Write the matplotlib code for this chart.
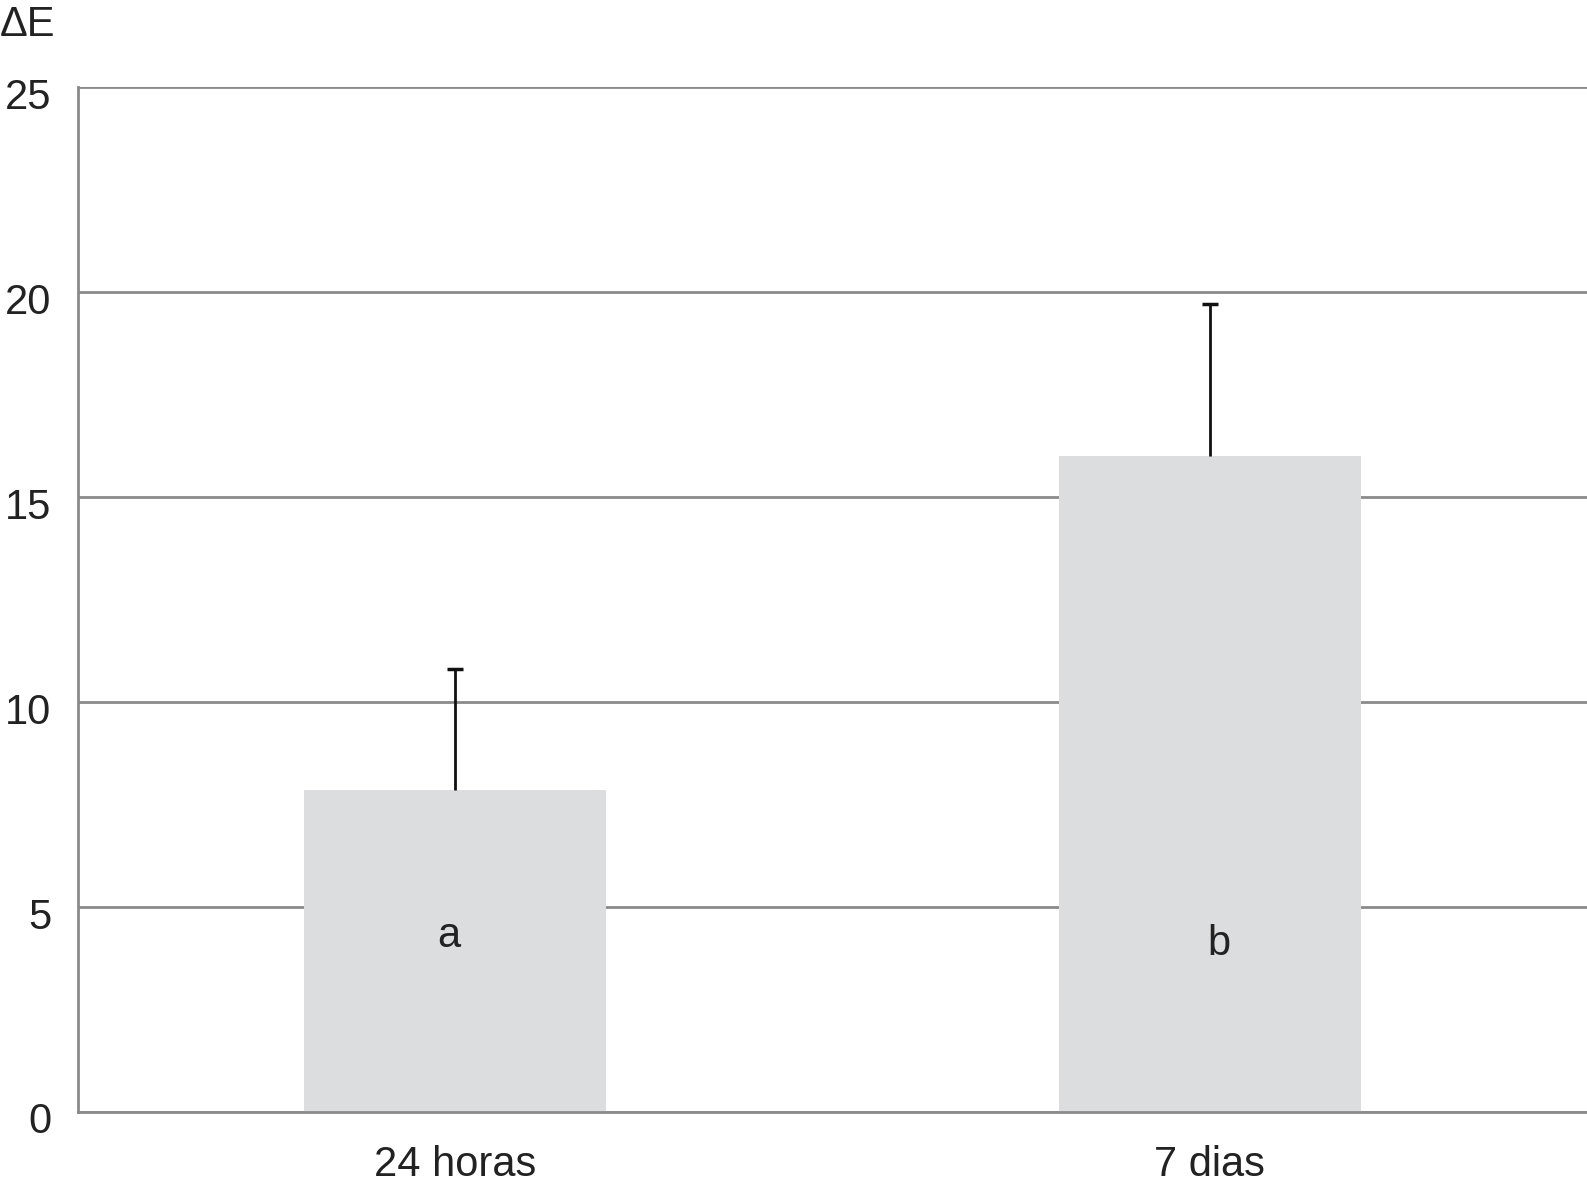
import matplotlib.pyplot as plt
from matplotlib.transforms import ScaledTranslation

# data
categories = ["24 horas", "7 dias"]
means = [7.85, 16.0]
errors = [2.95, 3.7]
letters = ["a", "b"]
letter_y = [4.3, 4.1]

plt.rcParams['font.family'] = ['Liberation Sans', 'DejaVu Sans']

fig = plt.figure(figsize=(15.87, 11.86), dpi=100)
ax = fig.add_axes([0.049, 0.0624, 0.951, 0.8642])

x = [0.5, 1.5]
ax.bar(x, means, width=0.40, color="#dcdddf", zorder=2)
eb = ax.errorbar(x, means, yerr=[[0, 0], errors], fmt="none", ecolor="#111111",
                 elinewidth=2, capsize=6, capthick=2.5, zorder=3)
# only the upper cap is drawn in the original
eb[1][0].set_visible(False)

for xi, lab, ly in zip(x, letters, letter_y):
    ax.text(xi - 0.008 if lab == "a" else xi + 0.012, ly, lab, ha="center", va="center",
            fontsize=30, color="#222222", zorder=4)

ax.set_xlim(0, 2)
ax.set_ylim(0, 25)
ax.set_yticks([0, 5, 10, 15, 20, 25])
ax.set_xticks(x)
ax.set_xticklabels(categories)
ax.yaxis.grid(True, color="#8a8a8a", linewidth=2, zorder=1)
ax.tick_params(axis="both", length=0, labelsize=30, colors="#222222")
ax.tick_params(axis="y", pad=19)
ax.tick_params(axis="x", pad=24)

# the y labels sit slightly below their gridlines in the original
shift = ScaledTranslation(0, -6 / 100, fig.dpi_scale_trans)
for lbl in ax.get_yticklabels():
    lbl.set_transform(lbl.get_transform() + shift)

for s in ["top", "right"]:
    ax.spines[s].set_visible(False)
for s in ["left", "bottom"]:
    ax.spines[s].set_color("#8a8a8a")
    ax.spines[s].set_linewidth(2)

fig.text(0.0, 0.979, "ΔE", fontsize=30, color="#222222", va="center", ha="left")

fig.savefig("out.png", dpi=100)
